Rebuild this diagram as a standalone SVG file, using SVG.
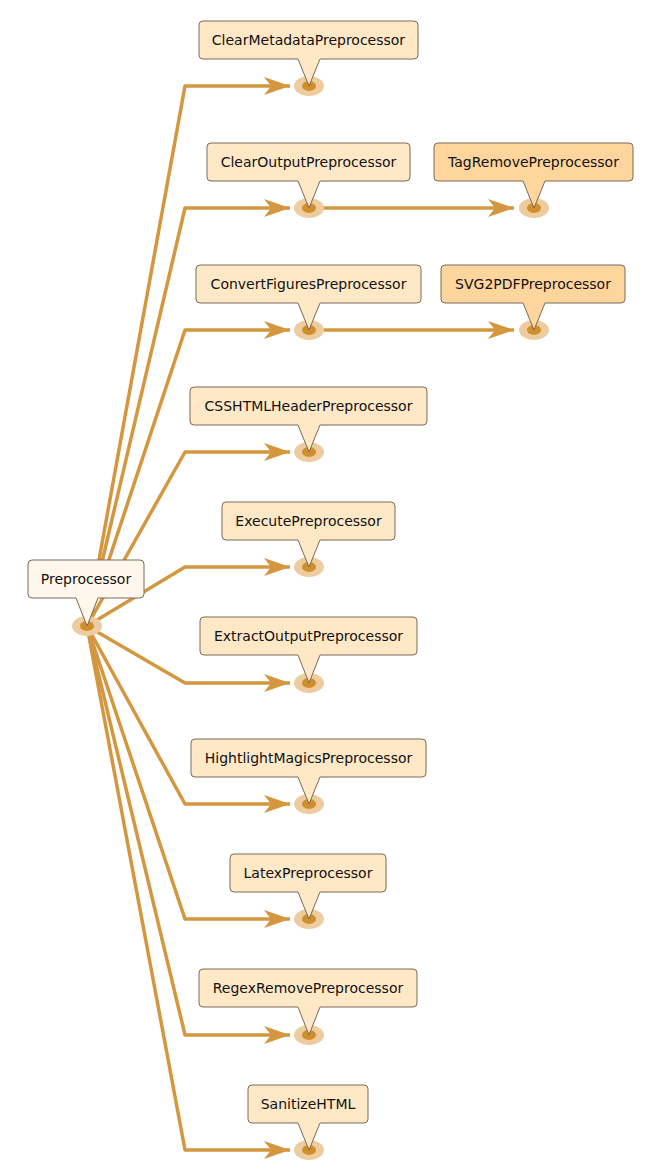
<svg xmlns="http://www.w3.org/2000/svg" width="650" height="1170" viewBox="0 0 650 1170">
<defs>
<marker id="ah" markerUnits="userSpaceOnUse" markerWidth="28" markerHeight="20" refX="26" refY="9" orient="auto" viewBox="0 0 28 18">
<path d="M0,0 L26,9 L0,18 L7,9 Z" fill="#d4973f"/>
</marker>
<g id="dot"><ellipse rx="15" ry="10" fill="#edcd9f"/><ellipse rx="7" ry="5" fill="#d08f2a"/></g>
</defs>
<style>
.c{fill:none;stroke:#d4973f;stroke-width:3.5;stroke-linejoin:round}
.b{fill:#ffe8c6;stroke:#7a6a58;stroke-width:1}
.d{fill:#ffd59e}
.p{fill:#fff7ec}
text{font-family:"DejaVu Sans",sans-serif;font-size:14px;fill:#111;text-anchor:middle}
</style>
<g id="connectors">
<polyline class="c" marker-end="url(#ah)" points="87,626 185,86 290,86"/>
<polyline class="c" marker-end="url(#ah)" points="87,626 185,208 290,208"/>
<polyline class="c" marker-end="url(#ah)" points="87,626 185,330 290,330"/>
<polyline class="c" marker-end="url(#ah)" points="87,626 185,452 290,452"/>
<polyline class="c" marker-end="url(#ah)" points="87,626 185,567 290,567"/>
<polyline class="c" marker-end="url(#ah)" points="87,626 185,683 290,683"/>
<polyline class="c" marker-end="url(#ah)" points="87,626 185,804 290,804"/>
<polyline class="c" marker-end="url(#ah)" points="87,626 185,919 290,919"/>
<polyline class="c" marker-end="url(#ah)" points="87,626 185,1035 290,1035"/>
<polyline class="c" marker-end="url(#ah)" points="87,626 185,1150 290,1150"/>
<polyline class="c" marker-end="url(#ah)" points="309,208 514,208"/>
<polyline class="c" marker-end="url(#ah)" points="309,330 514,330"/>
</g>
<g id="Preprocessor"><use href="#dot" x="87" y="626"/>
<path class="b p" d="M32,560 H140 Q144,560 144,564 V594 Q144,598 140,598 H98 L87,626 L76,598 H32 Q28,598 28,594 V564 Q28,560 32,560 Z"/>
<text x="86" y="584">Preprocessor</text></g>
<g id="ClearMetadataPreprocessor"><use href="#dot" x="309" y="86"/>
<path class="b" d="M203,21 H414 Q418,21 418,25 V55 Q418,59 414,59 H320 L309,86 L298,59 H203 Q199,59 199,55 V25 Q199,21 203,21 Z"/>
<text x="308.5" y="45">ClearMetadataPreprocessor</text></g>
<g id="ClearOutputPreprocessor"><use href="#dot" x="309" y="208"/>
<path class="b" d="M211,143 H406 Q410,143 410,147 V177 Q410,181 406,181 H320 L309,208 L298,181 H211 Q207,181 207,177 V147 Q207,143 211,143 Z"/>
<text x="308.5" y="167">ClearOutputPreprocessor</text></g>
<g id="TagRemovePreprocessor"><use href="#dot" x="534" y="208"/>
<path class="b d" d="M438,143 H629 Q633,143 633,147 V177 Q633,181 629,181 H545 L534,208 L523,181 H438 Q434,181 434,177 V147 Q434,143 438,143 Z"/>
<text x="533.5" y="167">TagRemovePreprocessor</text></g>
<g id="ConvertFiguresPreprocessor"><use href="#dot" x="309" y="330"/>
<path class="b" d="M200,265 H417 Q421,265 421,269 V299 Q421,303 417,303 H320 L309,330 L298,303 H200 Q196,303 196,299 V269 Q196,265 200,265 Z"/>
<text x="308.5" y="289">ConvertFiguresPreprocessor</text></g>
<g id="SVG2PDFPreprocessor"><use href="#dot" x="534" y="330"/>
<path class="b d" d="M445,265 H621 Q625,265 625,269 V299 Q625,303 621,303 H545 L534,330 L523,303 H445 Q441,303 441,299 V269 Q441,265 445,265 Z"/>
<text x="533" y="289">SVG2PDFPreprocessor</text></g>
<g id="CSSHTMLHeaderPreprocessor"><use href="#dot" x="309" y="452"/>
<path class="b" d="M194,387 H423 Q427,387 427,391 V421 Q427,425 423,425 H320 L309,452 L298,425 H194 Q190,425 190,421 V391 Q190,387 194,387 Z"/>
<text x="308.5" y="411">CSSHTMLHeaderPreprocessor</text></g>
<g id="ExecutePreprocessor"><use href="#dot" x="309" y="567"/>
<path class="b" d="M226,502 H391 Q395,502 395,506 V536 Q395,540 391,540 H320 L309,567 L298,540 H226 Q222,540 222,536 V506 Q222,502 226,502 Z"/>
<text x="308.5" y="526">ExecutePreprocessor</text></g>
<g id="ExtractOutputPreprocessor"><use href="#dot" x="309" y="683"/>
<path class="b" d="M204,617 H413 Q417,617 417,621 V651 Q417,655 413,655 H320 L309,683 L298,655 H204 Q200,655 200,651 V621 Q200,617 204,617 Z"/>
<text x="308.5" y="641">ExtractOutputPreprocessor</text></g>
<g id="HightlightMagicsPreprocessor"><use href="#dot" x="309" y="804"/>
<path class="b" d="M195,739 H422 Q426,739 426,743 V773 Q426,777 422,777 H320 L309,804 L298,777 H195 Q191,777 191,773 V743 Q191,739 195,739 Z"/>
<text x="308.5" y="763">HightlightMagicsPreprocessor</text></g>
<g id="LatexPreprocessor"><use href="#dot" x="309" y="919"/>
<path class="b" d="M234,854 H382 Q386,854 386,858 V888 Q386,892 382,892 H320 L309,919 L298,892 H234 Q230,892 230,888 V858 Q230,854 234,854 Z"/>
<text x="308" y="878">LatexPreprocessor</text></g>
<g id="RegexRemovePreprocessor"><use href="#dot" x="309" y="1035"/>
<path class="b" d="M203,969 H413 Q417,969 417,973 V1003 Q417,1007 413,1007 H320 L309,1035 L298,1007 H203 Q199,1007 199,1003 V973 Q199,969 203,969 Z"/>
<text x="308" y="993">RegexRemovePreprocessor</text></g>
<g id="SanitizeHTML"><use href="#dot" x="309" y="1150"/>
<path class="b" d="M252,1085 H364 Q368,1085 368,1089 V1119 Q368,1123 364,1123 H320 L309,1150 L298,1123 H252 Q248,1123 248,1119 V1089 Q248,1085 252,1085 Z"/>
<text x="308" y="1109">SanitizeHTML</text></g>
</svg>
